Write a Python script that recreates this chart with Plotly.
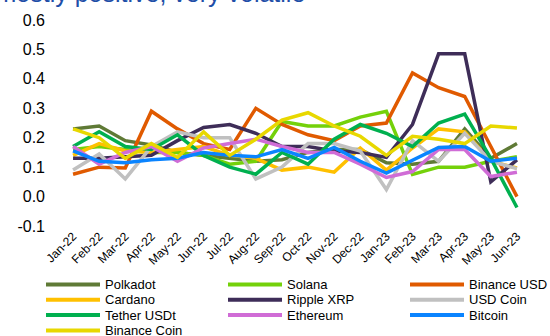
import plotly.graph_objects as go

months = ["Jan-22", "Feb-22", "Mar-22", "Apr-22", "May-22", "Jun-22", "Jul-22", "Aug-22", "Sep-22",
          "Oct-22", "Nov-22", "Dec-22", "Jan-23", "Feb-23", "Mar-23", "Apr-23", "May-23", "Jun-23"]

polkadot = [0.23, 0.24, 0.19, 0.175, 0.15, 0.14, 0.13, 0.12, 0.125, 0.15, 0.16, 0.16, 0.115, 0.11, 0.12, 0.23, 0.13, 0.18]
solana = [0.16, 0.17, 0.16, 0.15, 0.15, 0.14, 0.11, 0.12, 0.255, 0.24, 0.24, 0.27, 0.29, 0.075, 0.10, 0.10, 0.12, 0.135]
binance_usd = [0.076, 0.10, 0.097, 0.29, 0.23, 0.18, 0.16, 0.30, 0.245, 0.21, 0.19, 0.24, 0.25, 0.42, 0.37, 0.34, 0.17, 0.0]
cardano = [0.14, 0.18, 0.155, 0.15, 0.16, 0.17, 0.14, 0.13, 0.09, 0.10, 0.083, 0.165, 0.09, 0.165, 0.23, 0.22, 0.12, 0.097]
ripple_xrp = [0.13, 0.13, 0.135, 0.14, 0.19, 0.235, 0.245, 0.215, 0.17, 0.17, 0.155, 0.15, 0.133, 0.245, 0.485, 0.485, 0.05, 0.125]
usd_coin = [0.09, 0.145, 0.06, 0.17, 0.22, 0.20, 0.20, 0.06, 0.10, 0.18, 0.18, 0.155, 0.024, 0.19, 0.12, 0.215, 0.12, 0.095]
tether = [0.17, 0.22, 0.17, 0.16, 0.21, 0.14, 0.10, 0.076, 0.15, 0.11, 0.195, 0.245, 0.215, 0.17, 0.25, 0.28, 0.13, -0.037]
ethereum = [0.17, 0.11, 0.15, 0.17, 0.12, 0.165, 0.18, 0.195, 0.17, 0.15, 0.15, 0.11, 0.065, 0.085, 0.16, 0.16, 0.068, 0.083]
bitcoin = [0.155, 0.12, 0.115, 0.125, 0.13, 0.15, 0.14, 0.135, 0.16, 0.13, 0.167, 0.12, 0.08, 0.125, 0.167, 0.17, 0.12, 0.13]
binance_coin = [0.23, 0.20, 0.13, 0.18, 0.133, 0.22, 0.14, 0.195, 0.26, 0.285, 0.24, 0.205, 0.14, 0.205, 0.195, 0.18, 0.24, 0.233]

y_ticks = [-0.1, 0.0, 0.1, 0.2, 0.3, 0.4, 0.5, 0.6]

series = [
    ("Polkadot", polkadot, "#5F7A36"),
    ("Solana", solana, "#74D10A"),
    ("Binance USD", binance_usd, "#E05A00"),
    ("Cardano", cardano, "#FFC000"),
    ("Ripple XRP", ripple_xrp, "#3E2D58"),
    ("USD Coin", usd_coin, "#C0C0C0"),
    ("Tether USDt", tether, "#00B04F"),
    ("Ethereum", ethereum, "#D06CD6"),
    ("Bitcoin", bitcoin, "#0A84FF"),
    ("Binance Coin", binance_coin, "#E8D800"),
]

W, H = 550, 336
ML, MR, MT, MB = 60, 20, 20, 110
PW, PH = W - ML - MR, H - MT - MB


def px_x(px):
    return (px - ML) / PW


def px_y(py):
    return (H - MB - py) / PH


fig = go.Figure()
for name, vals, color in series:
    fig.add_trace(go.Scatter(x=list(range(len(months))), y=vals, name=name, mode="lines",
                             line=dict(color=color, width=3.5), showlegend=False))

# manual legend (3 columns, row-major)
col_x = [46, 228, 410]
row_y = [284.5, 299.8, 315.1, 330.4]
shapes = []
annotations = []
for i, (name, vals, color) in enumerate(series):
    r, c = divmod(i, 3)
    x0 = col_x[c]
    y0 = row_y[r]
    shapes.append(dict(type="line", xref="paper", yref="paper", x0=px_x(x0), x1=px_x(x0 + 54),
                       y0=px_y(y0), y1=px_y(y0), line=dict(color=color, width=4)))
    annotations.append(dict(text=name, xref="paper", yref="paper", x=px_x(x0 + 57), y=px_y(y0),
                            xanchor="left", yanchor="middle", showarrow=False,
                            font=dict(size=13, color="#000000")))

annotations.append(dict(text="Returns mostly positive, very volatile", xref="paper", yref="paper",
                        x=px_x(307), y=1.0, xanchor="right", yanchor="bottom", yshift=11,
                        showarrow=False, font=dict(size=25, color="#1F4FA8")))

fig.update_layout(
    width=W, height=H,
    margin=dict(l=ML, r=MR, t=MT, b=MB, autoexpand=False),
    paper_bgcolor="white", plot_bgcolor="white",
    font=dict(family="Liberation Sans, Arial, sans-serif", color="#000000"),
    showlegend=False,
    shapes=shapes,
    annotations=annotations,
)
fig.update_xaxes(range=[-0.5, 17.5], tickmode="array", tickvals=list(range(len(months))), ticktext=months,
                 tickangle=-45, tickfont=dict(size=12), showgrid=False, zeroline=False, showline=False,
                 ticks="")
fig.update_yaxes(range=[-0.1, 0.6], tickvals=y_ticks,
                 ticktext=[f"{v:.1f}" for v in y_ticks], ticklabelstandoff=14,
                 tickfont=dict(size=16), showgrid=False, zeroline=False, showline=False, ticks="")

fig.write_html("out.html", config={"displayModeBar": False},
               post_script="document.body.style.margin='0';document.body.style.overflow='hidden';")
